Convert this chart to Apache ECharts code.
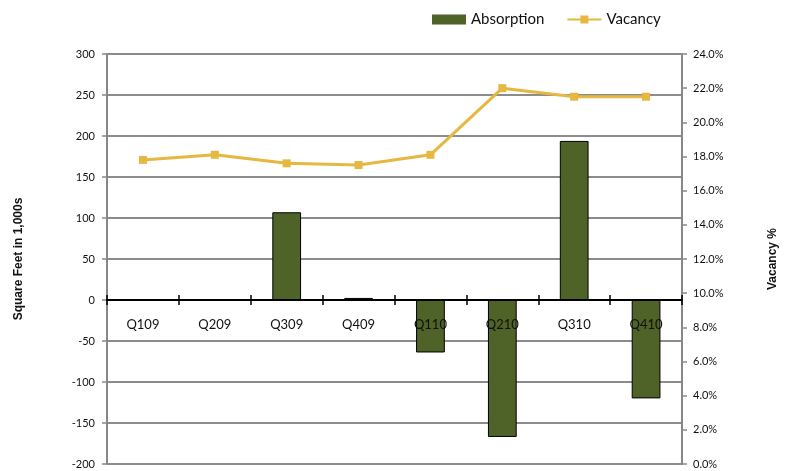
<!DOCTYPE html>
<html><head><meta charset="utf-8">
<script src="https://cdn.jsdelivr.net/npm/echarts@6/dist/echarts.min.js"></script>
<style>html,body{margin:0;padding:0;background:#fff}#c{width:791px;height:471px}</style>
</head><body><div id="c"></div>
<script>
const categories = ['Q109','Q209','Q309','Q409','Q110','Q210','Q310','Q410'];
const absorption = [-1, -1, 107, 2.5, -64, -167, 194, -120];
const vacancy = [17.8, 18.1, 17.6, 17.5, 18.1, 22.0, 21.5, 21.5];

const FONT = 'Lato, "Open Sans", sans-serif';
const chart = echarts.init(document.getElementById('c'));
chart.setOption({
  animation: false,
  textStyle: {fontFamily: FONT},
  legend: {
    left: 427, top: 7, itemGap: 22, itemWidth: 34, itemHeight: 10,
    textStyle: {fontSize: 15, color: '#111', fontFamily: FONT},
    data: [
      {name: 'Absorption', icon: 'rect', itemStyle: {borderWidth: 0}},
      {name: 'Vacancy'}
    ]
  },
  grid: {left: 107, right: 109, top: 54, bottom: 7, outerBoundsMode: 'none', containLabel: false},
  xAxis: [
    {
      type: 'category', data: categories, boundaryGap: true, z: 5,
      axisLine: {onZero: true, onZeroAxisIndex: 0, lineStyle: {color: '#000', width: 2}},
      axisTick: {show: true, length: 5, lineStyle: {color: '#000', width: 1.5}},
      axisLabel: {show: false}
    },
    {
      type: 'category', data: categories, boundaryGap: true, position: 'bottom', offset: -164, z: 10,
      axisLine: {show: false, onZero: false},
      axisTick: {show: true, inside: true, length: 5, lineStyle: {color: '#000', width: 1.5}},
      axisLabel: {fontSize: 13, color: '#111', margin: 18, fontFamily: FONT}
    }
  ],
  yAxis: [
    {
      type: 'value', min: -200, max: 300, interval: 50,
      name: 'Square Feet in 1,000s', nameLocation: 'middle', nameGap: 82, nameRotate: 90,
      nameTextStyle: {fontSize: 12, fontWeight: 'bold', color: '#111', fontFamily: 'Arial, "Liberation Sans", sans-serif'},
      axisLine: {show: true, lineStyle: {color: '#888', width: 2}},
      axisTick: {show: true, length: 5, lineStyle: {color: '#888', width: 1.5}},
      axisLabel: {fontSize: 11, color: '#111', margin: 12, fontFamily: FONT},
      splitLine: {show: true, lineStyle: {color: '#8c8c8c', width: 2}}
    },
    {
      type: 'value', min: 0, max: 24, interval: 2, position: 'right',
      name: 'Vacancy %', nameLocation: 'middle', nameGap: 85, nameRotate: 90,
      nameTextStyle: {fontSize: 12, fontWeight: 'bold', color: '#111', fontFamily: 'Arial, "Liberation Sans", sans-serif'},
      axisLine: {show: true, lineStyle: {color: '#888', width: 2}},
      axisTick: {show: true, length: 5, lineStyle: {color: '#888', width: 1.5}},
      axisLabel: {fontSize: 11, color: '#111', margin: 11, fontFamily: FONT,
        formatter: v => v.toFixed(1) + '%'},
      splitLine: {show: false}
    }
  ],
  series: [
    {
      name: 'Absorption', type: 'bar', data: absorption, yAxisIndex: 0, xAxisIndex: 0,
      barWidth: '40%',
      itemStyle: {color: '#4f6228', borderColor: '#000', borderWidth: 1}
    },
    {
      name: 'Vacancy', type: 'line', data: vacancy, yAxisIndex: 1, xAxisIndex: 0,
      symbol: 'rect', symbolSize: 8,
      lineStyle: {color: '#e6b741', width: 3},
      itemStyle: {color: '#e6b741'}
    }
  ]
});
</script></body></html>
